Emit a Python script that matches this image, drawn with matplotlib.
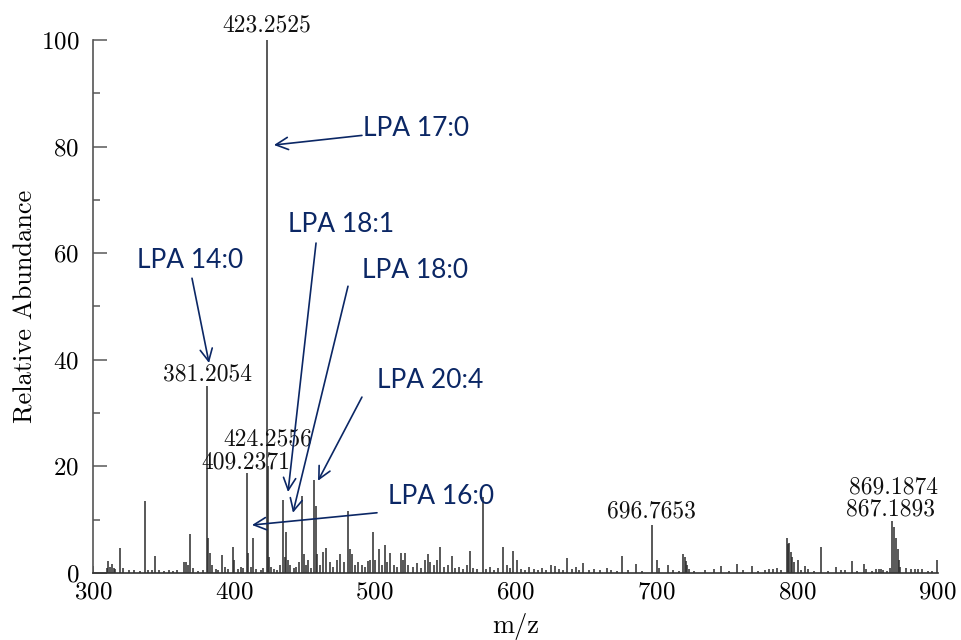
import matplotlib
matplotlib.use('Agg')
import matplotlib.pyplot as plt

plt.rcParams['font.family'] = 'cmr10'
plt.rcParams['axes.formatter.use_mathtext'] = True
plt.rcParams['axes.unicode_minus'] = False

# m/z and relative abundance of the peaks
mz = [300.2, 309.7, 310.9, 312.3, 313.5, 314.6, 315.6, 319.2, 321.5, 325.6, 329.3, 333.4,
      336.9, 339.0, 341.6, 344.3, 347.0, 350.5, 353.8, 357.0, 360.0, 364.6, 366.0, 367.5,
      369.1, 371.2, 374.5, 378.3, 381.2054, 381.9, 383.1, 384.5, 387.0, 389.0, 391.3, 393.8,
      396.0, 399.2, 400.3, 403.0, 404.8, 406.5, 409.2371, 410.0, 412.0, 413.6, 416.0, 419.0,
      421.0, 423.2525, 424.2556, 425.2, 426.5, 428.5, 431.0, 433.0, 435.25, 436.2, 437.3,
      438.4, 440.0, 442.5, 444.5, 446.0, 448.4, 449.5, 451.0, 453.0, 455.0, 457.2, 458.2,
      459.3, 461.0, 463.0, 465.5, 468.0, 470.5, 473.0, 475.5, 478.0, 481.3, 482.3, 484.0,
      486.0, 488.5, 491.0, 493.0, 495.0, 497.0, 499.1, 500.5, 503.0, 505.0, 507.4, 509.0,
      511.0, 513.5, 516.0, 519.0, 520.5, 521.6, 524.0, 527.0, 530.0, 533.0, 535.5, 537.6,
      539.0, 542.0, 544.0, 546.4, 549.0, 552.0, 554.7, 557.0, 560.0, 563.0, 565.5, 567.8,
      570.0, 573.0, 576.8, 579.0, 582.0, 585.0, 588.0, 591.4, 594.0, 596.5, 598.5, 600.9,
      604.0, 607.0, 610.0, 613.0, 616.0, 619.0, 622.0, 625.0, 628.0, 631.0, 634.0, 637.0,
      640.0, 643.0, 645.5, 648.0, 652.0, 656.0, 660.0, 664.8, 668.0, 672.0, 675.4, 680.0,
      686.0, 690.0, 696.7653, 700.3, 702.0, 708.1, 712.0, 716.0, 719.2, 720.2, 721.2, 722.2,
      723.2, 727.0, 734.7, 741.0, 746.0, 752.0, 757.2, 761.5, 767.9, 772.0, 777.0, 780.0,
      783.0, 786.0, 789.0, 793.1, 793.9, 794.7, 795.6, 796.6, 797.6, 800.4, 803.0, 806.0,
      808.0, 812.0, 817.1, 822.0, 827.7, 831.0, 834.0, 838.8, 843.0, 847.8, 849.0, 853.0,
      856.0, 858.0, 860.0, 861.1, 864.0, 866.0, 867.1893, 869.1874, 870.5, 871.5, 872.5,
      873.5, 877.4, 881.0, 883.5, 886.0, 889.0, 893.0, 896.0, 899.8]
ab = [1.3, 1.0, 2.2, 1.2, 1.7, 1.0, 0.8, 4.7, 1.0, 0.6, 0.6, 0.3,
      13.5, 0.6, 0.5, 3.1, 0.5, 0.4, 0.5, 0.4, 0.5, 2.0, 2.1, 1.5,
      7.4, 1.0, 0.4, 0.6, 35.0, 6.5, 3.7, 1.5, 0.8, 0.6, 3.4, 1.2,
      0.8, 4.9, 2.5, 0.8, 1.2, 0.9, 18.8, 3.7, 1.2, 6.5, 0.8, 0.6,
      1.0, 100.0, 20.0, 3.0, 1.2, 0.8, 0.6, 1.5, 13.7, 3.0, 7.7,
      2.5, 1.5, 1.0, 1.2, 2.0, 14.4, 3.5, 1.5, 2.5, 1.0, 17.4, 12.5,
      3.5, 1.5, 4.0, 4.7, 2.0, 1.2, 2.5, 3.5, 2.0, 11.7, 4.5, 3.5,
      1.5, 2.0, 1.5, 1.2, 2.3, 2.5, 7.6, 2.5, 4.5, 1.5, 5.2, 2.0,
      3.7, 1.5, 1.2, 3.7, 2.5, 3.7, 1.5, 1.2, 1.8, 1.0, 2.5, 3.5,
      2.0, 1.5, 2.5, 4.9, 1.2, 1.5, 3.2, 1.0, 1.2, 0.8, 1.5, 4.2,
      1.0, 0.8, 14.3, 0.8, 1.2, 0.6, 1.0, 4.9, 1.5, 1.0, 4.1, 2.4,
      0.8, 0.6, 1.2, 0.8, 0.6, 1.0, 0.5, 1.5, 1.3, 0.8, 0.6, 2.9,
      0.8, 1.2, 0.6, 1.9, 0.5, 0.8, 0.6, 1.0, 0.5, 0.4, 3.2, 0.5,
      1.7, 0.4, 9.0, 2.4, 1.0, 1.5, 0.5, 0.4, 3.6, 3.0, 2.2, 1.5,
      0.8, 0.4, 0.6, 0.8, 1.4, 0.4, 1.7, 0.5, 1.3, 0.4, 0.6, 0.7,
      0.8, 0.9, 0.6, 6.5, 5.5, 5.6, 4.0, 3.0, 2.0, 2.4, 0.6, 1.3,
      0.8, 0.4, 4.9, 0.4, 1.2, 0.6, 0.6, 2.2, 0.4, 1.7, 0.8, 0.4,
      0.8, 0.7, 0.8, 0.6, 0.4, 1.0, 9.8, 8.7, 6.5, 4.5, 2.5,
      1.2, 1.0, 0.8, 0.8, 0.7, 0.8, 0.4, 0.4, 2.4]

# labelled peaks: text, x, y (label centre)
peak_labels = ['423.2525', '381.2054', '424.2556', '409.2371', '696.7653', '869.1874', '867.1893']
label_x = [423.4, 381.5, 424.3, 408.7, 696.8, 868.6, 866.5]
label_y = [102.8, 37.2, 25.0, 20.8, 11.5, 16.1, 12.0]

# lipid annotations: text, text position, arrow tail, arrow head
lpa_names = ['LPA 17:0', 'LPA 14:0', 'LPA 18:1', 'LPA 18:0', 'LPA 20:4', 'LPA 16:0']
lpa_text_x = [491.5, 369.0, 476.0, 528.7, 539.3, 547.0]
lpa_text_y = [83.4, 58.7, 65.3, 56.8, 36.2, 14.3]
tail_x = [491.0, 370.3, 458.4, 481.1, 491.0, 501.7]
tail_y = [82.1, 55.3, 61.9, 53.8, 33.0, 11.3]
head_x = [428.5, 382.4, 438.5, 442.0, 459.8, 412.9]
head_y = [80.3, 39.4, 15.2, 11.3, 17.3, 9.0]
lpa_ha = ['left', 'center', 'center', 'center', 'center', 'center']

fig = plt.figure(figsize=(9.61, 6.4), dpi=100)
ax = fig.add_axes([0.0968, 0.1047, 0.879, 0.8328])

ax.vlines(mz, 0, ab, color='#2b2b2b', lw=1.1)

for t, x, y in zip(peak_labels, label_x, label_y):
    ax.text(x, y, t, ha='center', va='center', fontsize=17, color='#111111')

navy = '#0b2765'
for name, tx, ty, x0, y0, x1, y1, ha in zip(lpa_names, lpa_text_x, lpa_text_y, tail_x, tail_y,
                                             head_x, head_y, lpa_ha):
    ax.text(tx, ty, name, ha=ha, va='center', fontsize=19, color=navy, family='Lato')
    ax.annotate('', xy=(x1, y1), xytext=(x0, y0),
                arrowprops=dict(arrowstyle='->', color=navy, lw=1.2,
                                mutation_scale=22, shrinkA=0, shrinkB=0))

ax.set_xlim(300, 900)
ax.set_ylim(0, 100)
ax.set_xticks([300, 400, 500, 600, 700, 800, 900])
ax.set_yticks([0, 20, 40, 60, 80, 100])
ax.set_yticks([10, 30, 50, 70, 90], minor=True)
ax.tick_params(axis='x', length=0, pad=6, labelsize=18)
ax.tick_params(axis='y', which='major', direction='in', length=10, width=1.2,
               color='#666666', labelsize=18, pad=10)
ax.tick_params(axis='y', which='minor', direction='in', length=5, width=1.2, color='#666666')
ax.spines['top'].set_visible(False)
ax.spines['right'].set_visible(False)
ax.spines['left'].set_color('#555555')
ax.spines['bottom'].set_color('#333333')
ax.spines['left'].set_linewidth(1.2)
ax.spines['bottom'].set_linewidth(1.2)
ax.set_xlabel('m/z', fontsize=19, labelpad=7)
ax.set_ylabel('Relative Abundance', fontsize=19, labelpad=2)

plt.savefig('out.png', dpi=100)
